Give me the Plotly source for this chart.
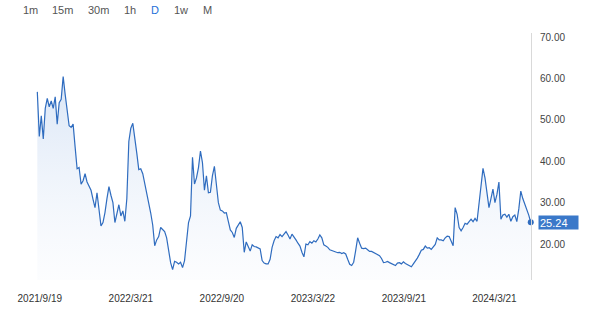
import pandas as pd
import plotly.graph_objects as go

# ---- data ----
start_date = "2021-09-14"
step = "4D"
prices = [
    56.8, 46.0, 51.0, 45.4, 52.8, 55.2, 53.2, 54.6, 52.8, 55.6,
    49.0, 54.2, 55.0, 60.5, 56.2, 52.0, 48.6, 48.2, 49.0, 43.5,
    38.2, 38.5, 34.5, 35.3, 37.0, 35.0, 33.8, 33.0, 30.8, 28.8,
    32.4, 28.5, 24.4, 25.2, 27.6, 31.0, 33.9, 31.8, 30.0, 25.2,
    27.8, 29.5, 26.8, 28.0, 25.5, 31.0, 44.8, 48.0, 49.2, 46.0,
    42.0, 38.0, 38.2, 37.0, 34.7, 32.6, 29.8, 27.5, 24.6, 19.6,
    21.0, 21.8, 24.0, 23.6, 23.0, 21.5, 18.0, 15.5, 13.8, 15.8,
    15.6, 15.2, 15.6, 14.3, 16.0, 20.5, 25.2, 26.8, 41.0, 34.5,
    36.0, 38.5, 42.5, 39.7, 33.0, 36.5, 32.4, 32.5, 36.5, 38.8,
    35.0, 30.0, 28.2, 28.0, 27.5, 27.6, 25.5, 23.4, 22.8, 21.6,
    23.8, 24.8, 25.4, 24.0, 18.0, 20.5, 19.5, 18.3, 19.8, 19.4,
    19.3, 19.0, 18.8, 16.0, 15.4, 15.2, 15.2, 16.3, 19.2, 20.8,
    21.8, 21.5, 22.3, 21.8, 22.5, 23.0, 22.2, 21.2, 22.4, 21.8,
    21.0, 20.2, 19.5, 18.0, 16.9, 20.0, 19.8, 20.6, 20.2, 20.8,
    20.5, 21.2, 22.2, 21.5, 19.8, 19.5, 19.2, 18.6, 18.4, 18.1,
    18.0, 17.9, 18.0, 17.7, 17.9, 17.6, 16.3, 15.1, 14.8, 15.6,
    18.4, 21.5, 20.2, 19.0, 18.9, 19.0, 18.6, 18.2, 18.2, 17.9,
    17.8, 17.5, 17.2, 16.5, 15.5, 15.6, 15.8, 15.5, 15.2, 15.0,
    14.8, 15.4, 15.5, 15.2, 15.7, 15.3, 15.0, 14.7, 14.5, 15.2,
    15.8, 16.6, 17.5, 18.5, 18.7, 19.5, 19.0, 19.1, 18.7, 19.2,
    19.9, 21.5, 21.0, 21.0, 20.8, 21.5, 21.9, 21.8, 20.8, 19.6,
    28.8, 27.2, 24.0, 23.2, 24.0, 25.0, 24.8, 25.4, 26.0, 25.4,
    26.2, 25.5, 29.5, 33.5, 38.3, 36.0, 31.8, 28.8, 31.0, 33.3,
    30.0, 32.0, 35.0, 26.0, 27.0, 27.2, 26.5, 27.2, 25.5, 26.6,
    27.0, 25.4, 28.5, 32.8, 31.0, 29.6, 28.6, 27.0, 25.24,
]
x_tick_dates = ["2021-09-19", "2022-03-21", "2022-09-20", "2023-03-22", "2023-09-21", "2024-03-21"]
x_tick_labels = ["2021/9/19", "2022/3/21", "2022/9/20", "2023/3/22", "2023/9/21", "2024/3/21"]
y_ticks = [20, 30, 40, 50, 60, 70]
intervals = ["1m", "15m", "30m", "1h", "D", "1w", "M"]
active_interval = "D"

dates = pd.date_range(start_date, periods=len(prices), freq=step)

LINE = "#2f6cbf"
W, H = 600, 316
ML, MR, MT, MB = 0, 69, 33, 36
PW, PH = W - ML - MR, H - MT - MB

fig = go.Figure()
fig.add_trace(go.Scatter(
    x=dates, y=prices, mode="lines",
    line=dict(color=LINE, width=1.2),
    fill="tozeroy",
    fillgradient=dict(type="vertical",
                      colorscale=[[0, "rgba(235,241,250,0.15)"], [1, "rgba(214,227,245,0.9)"]],
                      start=11, stop=61),
    hoverinfo="skip", showlegend=False,
))
fig.add_trace(go.Scatter(
    x=[dates[-1]], y=[prices[-1]], mode="markers",
    marker=dict(color=LINE, size=6),
    cliponaxis=False, hoverinfo="skip", showlegend=False,
))

fig.add_annotation(
    x=1, xref="paper", xanchor="left", xshift=7,
    y=prices[-1], yref="y", yanchor="middle",
    text=f"{prices[-1]:.2f}", showarrow=False,
    bgcolor="#3a78c9", font=dict(color="white", size=11, family="Liberation Sans, Arial"),
    width=37, height=11, align="left", borderpad=1,
)

btn_px = [30, 62, 98, 129.5, 154.5, 181, 207.5]
for lab, px in zip(intervals, btn_px):
    fig.add_annotation(
        x=px / PW, xref="paper", xanchor="center",
        y=1 + (MT - 9.5) / PH, yref="paper", yanchor="middle",
        text=lab, showarrow=False,
        font=dict(size=11, color="#1d6fd8" if lab == active_interval else "#555555",
                  family="Liberation Sans, Arial"),
    )

x_start = dates[0] - pd.Timedelta(days=75)
x_end = dates[-1] + pd.Timedelta(hours=12)

fig.update_layout(
    width=W, height=H,
    margin=dict(l=ML, r=MR, t=MT, b=MB),
    paper_bgcolor="white", plot_bgcolor="white",
    font=dict(family="Liberation Sans, Arial", size=10, color="#333333"),
    xaxis=dict(
        type="date", range=[x_start, x_end],
        tickvals=pd.to_datetime(x_tick_dates), ticktext=x_tick_labels,
        showgrid=False, zeroline=False, showline=False,
        ticks="outside", ticklen=9, tickcolor="rgba(0,0,0,0)",
        tickfont=dict(size=10, color="#333333"),
    ),
    yaxis=dict(
        side="right", range=[11.3, 71.04],
        tickvals=y_ticks, tickformat=".2f",
        showgrid=False, zeroline=False,
        showline=True, linecolor="#d9d9d9", linewidth=1,
        ticks="outside", ticklen=6, tickcolor="rgba(0,0,0,0)",
        tickfont=dict(size=10, color="#444444"),
    ),
)

fig.write_html("out.html", config={"displayModeBar": False})
